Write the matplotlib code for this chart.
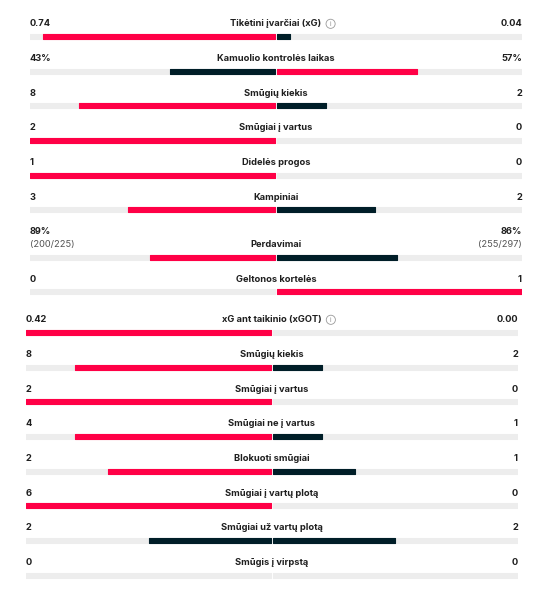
import matplotlib.pyplot as plt

RED = '#ff0046'
DARK = '#001e28'
TRACK = '#ededed'
TXT = '#1f1f1f'

# section 1: match stats
top_labels = ['Tikėtini įvarčiai (xG)', 'Kamuolio kontrolės laikas', 'Smūgių kiekis',
              'Smūgiai į vartus', 'Didelės progos', 'Kampiniai', 'Perdavimai',
              'Geltonos kortelės']
top_home = [0.74, 43, 8, 2, 1, 3, 89, 0]
top_away = [0.04, 57, 2, 0, 0, 2, 86, 1]
top_home_txt = ['0.74', '43%', '8', '2', '1', '3', '89%', '0']
top_away_txt = ['0.04', '57%', '2', '0', '0', '2', '86%', '1']
top_home_sub = ['', '', '', '', '', '', '(200/225)', '']
top_away_sub = ['', '', '', '', '', '', '(255/297)', '']
top_info = [True, False, False, False, False, False, False, False]

# section 2: shots
bot_labels = ['xG ant taikinio (xGOT)', 'Smūgių kiekis', 'Smūgiai į vartus',
              'Smūgiai ne į vartus', 'Blokuoti smūgiai', 'Smūgiai į vartų plotą',
              'Smūgiai už vartų plotą', 'Smūgis į virpstą']
bot_home = [0.42, 8, 2, 4, 2, 6, 2, 0]
bot_away = [0.00, 2, 0, 1, 1, 0, 2, 0]
bot_home_txt = ['0.42', '8', '2', '4', '2', '6', '2', '0']
bot_away_txt = ['0.00', '2', '0', '1', '1', '0', '2', '0']
bot_home_sub = [''] * 8
bot_away_sub = [''] * 8
bot_info = [True, False, False, False, False, False, False, False]

W, H = 541, 590
plt.rcParams['font.family'] = ['Inter', 'DejaVu Sans']
fig = plt.figure(figsize=(W / 100, H / 100), dpi=100)
fig.patch.set_facecolor('white')

GAP = 0.004
BAR_H = 5
FS = 6.7


def section(x0, x1, y_first, labels, home, away, htxt, atxt, hsub, asub, info):
    ax = fig.add_axes([x0 / W, 0, (x1 - x0) / W, 1])
    ax.set_xlim(-1, 1)
    ax.set_ylim(H, 0)
    ax.axis('off')
    y = y_first
    for i, lab in enumerate(labels):
        if hsub[i]:
            y += 12.5
        h, a = home[i], away[i]
        tot = h + a
        fh = h / tot if tot else 0
        fa = a / tot if tot else 0
        ch = RED if h > a else DARK
        ca = RED if a > h else DARK
        kw = dict(height=BAR_H, linewidth=0.8, joinstyle='round')
        ax.barh(y, -(1 - GAP), left=-GAP, color=TRACK, edgecolor=TRACK, **kw)
        ax.barh(y, 1 - GAP, left=GAP, color=TRACK, edgecolor=TRACK, **kw)
        if fh:
            ax.barh(y, -fh * (1 - GAP), left=-GAP, color=ch, edgecolor=ch, **kw)
        if fa:
            ax.barh(y, fa * (1 - GAP), left=GAP, color=ca, edgecolor=ca, **kw)
        ty = y - 12.5
        t = ax.text(0, ty, lab, ha='center', va='center', fontsize=FS,
                    fontweight='bold', color=TXT)
        if info[i]:
            ax.annotate('i', xy=(1, 0.5), xycoords=t, xytext=(6.5, 0),
                        textcoords='offset points', ha='center', va='center',
                        fontsize=4.5, color='#8a8a8a',
                        bbox=dict(boxstyle='circle,pad=0.25', fc='white',
                                  ec='#9a9a9a', lw=0.6))
        vy = ty - 12.5 if hsub[i] else ty
        ax.text(-1, vy, htxt[i], ha='left', va='center', fontsize=FS,
                fontweight='bold', color=TXT)
        ax.text(1, vy, atxt[i], ha='right', va='center', fontsize=FS,
                fontweight='bold', color=TXT)
        if hsub[i]:
            ax.text(-1, ty, hsub[i], ha='left', va='center', fontsize=FS,
                    color='#555555')
            ax.text(1, ty, asub[i], ha='right', va='center', fontsize=FS,
                    color='#555555')
        y += 34.7


section(30, 522, 36.3, top_labels, top_home, top_away, top_home_txt, top_away_txt,
        top_home_sub, top_away_sub, top_info)
section(26, 518, 332.3, bot_labels, bot_home, bot_away, bot_home_txt, bot_away_txt,
        bot_home_sub, bot_away_sub, bot_info)

fig.savefig('out.png', dpi=100, facecolor='white')
